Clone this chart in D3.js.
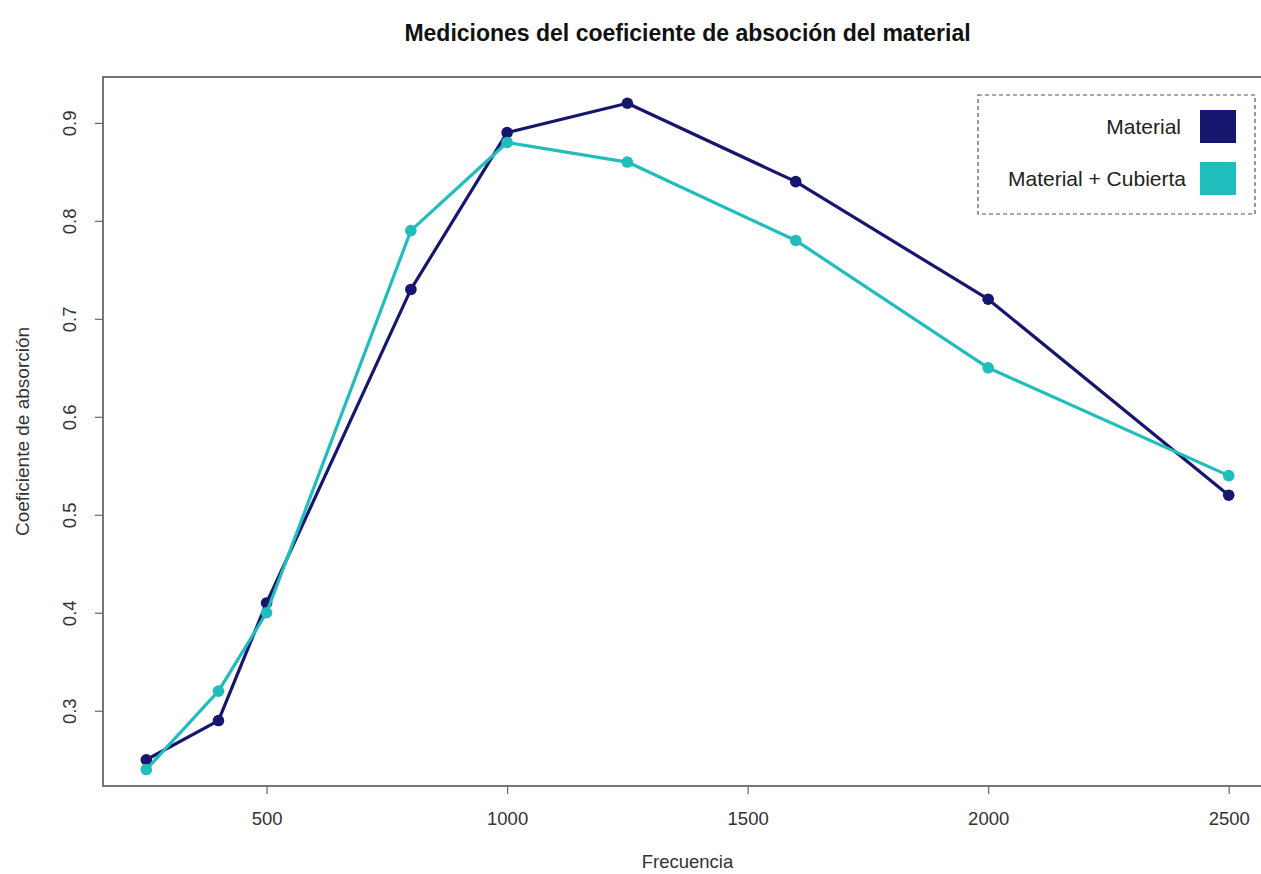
<!DOCTYPE html>
<html>
<head>
<meta charset="utf-8">
<script src="https://cdn.jsdelivr.net/npm/d3@7"></script>
<style>
  html, body { margin: 0; padding: 0; background: #ffffff; overflow: hidden; }
  text { font-family: "Liberation Sans", Arial, sans-serif; }
</style>
</head>
<body>
<svg id="chart" width="1261" height="874"></svg>
<script>
const frequencies = [250, 400, 500, 800, 1000, 1250, 1600, 2000, 2500];
const material = [0.25, 0.29, 0.41, 0.73, 0.89, 0.92, 0.84, 0.72, 0.52];
const materialCubierta = [0.24, 0.32, 0.40, 0.79, 0.88, 0.86, 0.78, 0.65, 0.54];
const xTicks = [500, 1000, 1500, 2000, 2500];
const yTicks = [0.3, 0.4, 0.5, 0.6, 0.7, 0.8, 0.9];
const seriesNames = ["Material", "Material + Cubierta"];
const seriesColors = ["#16166f", "#20bdbd"];
const title = "Mediciones del coeficiente de absoción del material";
const xLabel = "Frecuencia";
const yLabel = "Coeficiente de absorción";

const svg = d3.select("#chart");
const pLeft = 103, pRight = 1272, pTop = 77, pBottom = 786;

const xMin = d3.min(frequencies), xMax = d3.max(frequencies);
const xPad = (xMax - xMin) * 0.04;
const x = d3.scaleLinear().domain([xMin - xPad, xMax + xPad]).range([pLeft, pRight]);
const yMin = d3.min(material), yMax = d3.max(material);
const yPad = (yMax - yMin) * 0.04;
const y = d3.scaleLinear().domain([yMin - yPad, yMax + yPad]).range([pBottom, pTop]);

// plot box
svg.append("rect")
  .attr("x", pLeft).attr("y", pTop)
  .attr("width", pRight - pLeft).attr("height", pBottom - pTop)
  .attr("fill", "none").attr("stroke", "#555").attr("stroke-width", 1.6);

// x axis
const xAxis = svg.append("g").attr("transform", `translate(0,${pBottom})`)
  .call(d3.axisBottom(x).tickValues(xTicks).tickSize(8).tickPadding(18).tickFormat(d3.format("d")));
xAxis.select(".domain").remove();
xAxis.selectAll("line").attr("stroke", "#666").attr("stroke-width", 1.2);
xAxis.selectAll("text").attr("font-size", 18.5).attr("fill", "#333");

// y axis
const yAxis = svg.append("g").attr("transform", `translate(${pLeft},0)`)
  .call(d3.axisLeft(y).tickValues(yTicks).tickSize(8).tickFormat(d3.format(".1f")));
yAxis.select(".domain").remove();
yAxis.selectAll("line").attr("stroke", "#666").attr("stroke-width", 1.2);
yAxis.selectAll("text")
  .attr("font-size", 18.5).attr("fill", "#333")
  .attr("x", null)
  .attr("text-anchor", "middle")
  .attr("transform", "translate(-33,0) rotate(-90)")
  .attr("dy", "0.35em");

// title & axis labels
svg.append("text").attr("x", (pLeft + pRight) / 2).attr("y", 41)
  .attr("text-anchor", "middle").attr("font-size", 23).attr("font-weight", "bold")
  .attr("fill", "#111").text(title);
svg.append("text").attr("x", (pLeft + pRight) / 2).attr("y", 868)
  .attr("text-anchor", "middle").attr("font-size", 18.5).attr("fill", "#333").text(xLabel);
svg.append("text")
  .attr("transform", `translate(29,${(pTop + pBottom) / 2}) rotate(-90)`)
  .attr("text-anchor", "middle").attr("font-size", 19).attr("fill", "#333").text(yLabel);

// series
const allSeries = [material, materialCubierta];
const line = d3.line().x(d => x(d[0])).y(d => y(d[1]));
allSeries.forEach((vals, i) => {
  const pts = frequencies.map((f, j) => [f, vals[j]]);
  svg.append("path").datum(pts)
    .attr("d", line).attr("fill", "none")
    .attr("stroke", seriesColors[i]).attr("stroke-width", 3.2)
    .attr("stroke-linejoin", "round");
  svg.selectAll(null).data(pts).enter().append("circle")
    .attr("cx", d => x(d[0])).attr("cy", d => y(d[1]))
    .attr("r", 5.8).attr("fill", seriesColors[i]);
});

// legend
const lg = svg.append("g");
lg.append("rect").attr("x", 978).attr("y", 95).attr("width", 277).attr("height", 119)
  .attr("fill", "#fff").attr("stroke", "#555").attr("stroke-width", 1.2)
  .attr("stroke-dasharray", "4,3");
seriesNames.forEach((name, i) => {
  const cy = 127 + i * 52;
  lg.append("rect").attr("x", 1200).attr("y", cy - 17).attr("width", 36).attr("height", 33)
    .attr("fill", seriesColors[i]);
  lg.append("text").attr("x", i === 0 ? 1181 : 1186).attr("y", cy).attr("dy", "0.35em")
    .attr("text-anchor", "end").attr("font-size", 21).attr("fill", "#222").text(name);
});
</script>
</body>
</html>
